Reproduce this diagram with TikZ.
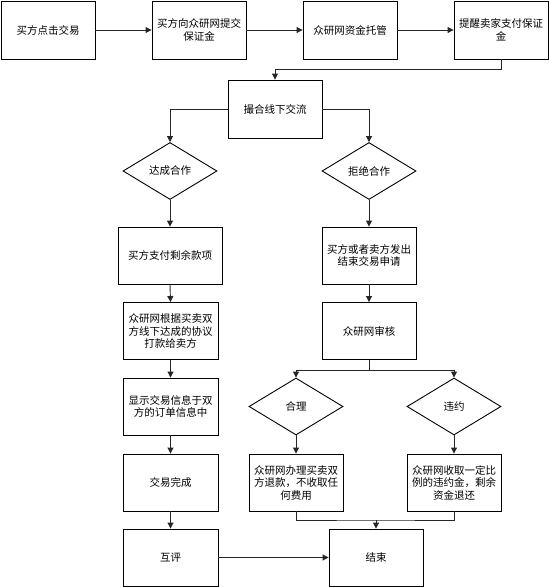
\documentclass[tikz,border=0pt]{standalone}
\usepackage{fontspec}
\setmainfont{Noto Sans CJK SC}
\usetikzlibrary{arrows.meta,shapes.geometric,calc}
\begin{document}
\begin{tikzpicture}[x=1pt,y=-1pt,
  every node/.style={font=\fontsize{10.5}{12.5}\selectfont, text=black},
  box/.style={draw=black, line width=0.9pt, minimum width=94pt, minimum height=57pt, inner sep=1pt, align=center},
  dia/.style={draw=black, line width=0.9pt, shape=diamond, aspect=1.65, minimum width=94pt, minimum height=57pt, inner sep=0pt, align=center},
  arr/.style={draw=black!85, line width=0.9pt, -{Triangle[length=6pt,width=6pt]}},
  ln/.style={draw=black!85, line width=0.9pt}]
\useasboundingbox (0,0) rectangle (549,587);
% top row
\node[box, minimum height=58pt] (b1) at (48,30) {买方点击交易};
\node[box, minimum height=58pt] (b2) at (199,30) {买方向众研网提交\\保证金};
\node[box, minimum height=58pt] (b3) at (350,30) {众研网资金托管};
\node[box, minimum height=58pt] (b4) at (501,30) {提醒卖家支付保证\\金};
\node[box, minimum height=58pt] (b5) at (275,109) {撮合线下交流};
% decisions
\node[dia] (d1) at (170,171) {达成合作};
\node[dia] (d2) at (369,171) {拒绝合作};
% left column
\node[box, minimum width=104pt] (l1) at (170,255.5) {买方支付剩余款项};
\node[box, minimum width=95pt] (l2) at (170.5,331) {众研网根据买卖双\\方线下达成的协议\\打款给卖方};
\node[box, minimum width=95pt] (l3) at (170.5,406.5) {显示交易信息于双\\方的订单信息中};
\node[box, minimum width=95pt] (l4) at (170.5,482.5) {交易完成};
\node[box, minimum width=95pt] (l5) at (170.5,557.5) {互评};
% right column
\node[box] (r1) at (369,255.5) {买方或者卖方发出\\结束交易申请};
\node[box] (r2) at (369,331) {众研网审核};
\node[dia] (h) at (296,406.5) {合理};
\node[dia] (w) at (454,406.5) {违约};
\node[box] (hr) at (296,482.5) {众研网办理买卖双\\方退款，不收取任\\何费用};
\node[box] (wr) at (454,482.5) {众研网收取一定比\\例的违约金，剩余\\资金退还};
\node[box] (end) at (376,557.5) {结束};
% connectors
\draw[arr] (b1) -- (b2);
\draw[arr] (b2) -- (b3);
\draw[arr] (b3) -- (b4);
\draw[arr] (b4.south) -- ++(0,10) -| (b5.north);
\draw[arr] (b5.west) -| (d1.north);
\draw[arr] (b5.east) -| (d2.north);
\draw[arr] (d1.south) -- (l1.north);
\draw[arr] (l1.south) -- (l2.north);
\draw[arr] (l2.south) -- (l3.north);
\draw[arr] (l3.south) -- (l4.north);
\draw[arr] (l4.south) -- (l5.north);
\draw[arr] (l5.east) -- (end.west);
\draw[arr] (d2.south) -- (r1.north);
\draw[arr] (r1.south) -- (r2.north);
\draw[ln] (r2.south) -- ++(0,10) coordinate (br);
\draw[arr] (br) -| (h.north);
\draw[arr] (br) -| (w.north);
\draw[arr] (h.south) -- (hr.north);
\draw[arr] (w.south) -- (wr.north);
\coordinate (m) at (376,520);
\draw[ln] (hr.south) |- (m) -| (wr.south);
\draw[arr] (m) -- (end.north);
\end{tikzpicture}
\end{document}
